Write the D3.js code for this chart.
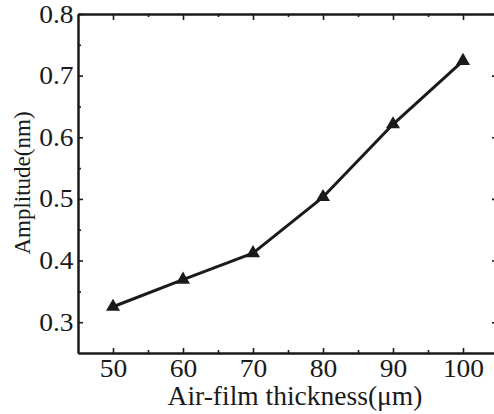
<!DOCTYPE html>
<html>
<head>
<meta charset="utf-8">
<script src="https://cdn.jsdelivr.net/npm/d3@7/dist/d3.min.js"></script>
<style>
  html, body { margin: 0; padding: 0; background: #fff; overflow: hidden; }
  svg text { font-family: "Liberation Serif", "Times New Roman", serif; fill: #1a1a1a; }
</style>
</head>
<body>
<div id="chart"></div>
<script>
// ── Data ──────────────────────────────────────────────────────────────
const thickness = [50, 60, 70, 80, 90, 100];
const amplitude = [0.325, 0.369, 0.412, 0.503, 0.621, 0.724];
const xTicks    = [50, 60, 70, 80, 90, 100];
const yTicks    = [0.3, 0.4, 0.5, 0.6, 0.7, 0.8];
const xMinor    = [55, 65, 75, 85, 95];
const yMinor    = [0.35, 0.45, 0.55, 0.65, 0.75];

const W = 494, H = 414;
const margin = { top: 14, right: -4, bottom: 61, left: 78 };
const w = W - margin.left - margin.right;
const h = H - margin.top - margin.bottom;
const ink = '#1a1a1a';
const serif = '"Liberation Serif", "Times New Roman", serif';

const svg = d3.select('#chart').append('svg')
  .attr('width', W).attr('height', H);

const g = svg.append('g')
  .attr('transform', `translate(${margin.left},${margin.top})`);

// ── Scales ────────────────────────────────────────────────────────────
const x = d3.scaleLinear().domain([45, 105]).range([0, w]);
const y = d3.scaleLinear().domain([0.25, 0.8]).range([h, 0]);

// ── Axes (ticks point inward on all four sides) ──────────────────────
function styleAxis(sel) {
  sel.attr('font-family', null);
  sel.select('.domain').attr('stroke', ink).attr('stroke-width', 2);
  sel.selectAll('line').attr('stroke', ink).attr('stroke-width', 1.6);
  // the source figure's numerals are a touch wider than Liberation Serif
  sel.selectAll('text')
    .style('font-family', serif)
    .style('font-size', '25px')
    .attr('transform', 'scale(1.1,1)')
    .attr('fill', ink);
}

function minorAxis(axisFn, scale, ticks, len) {
  return axisFn(scale).tickValues(ticks).tickSize(len).tickFormat('').tickSizeOuter(0);
}

// bottom
g.append('g').attr('transform', `translate(0,${h})`)
  .call(d3.axisBottom(x).tickValues(xTicks).tickSize(-5).tickSizeOuter(0).tickPadding(6).tickFormat(d3.format('d')))
  .call(styleAxis);
g.append('g').attr('transform', `translate(0,${h})`)
  .call(minorAxis(d3.axisBottom, x, xMinor, -3)).call(styleAxis);

// top
g.append('g')
  .call(d3.axisTop(x).tickValues(xTicks).tickSize(-6).tickSizeOuter(0).tickFormat(''))
  .call(styleAxis);
g.append('g')
  .call(minorAxis(d3.axisTop, x, xMinor, -3)).call(styleAxis);

// left
g.append('g')
  .call(d3.axisLeft(y).tickValues(yTicks).tickSize(-5).tickSizeOuter(0).tickPadding(4).tickFormat(d3.format('.1f')))
  .call(styleAxis);
g.append('g')
  .call(minorAxis(d3.axisLeft, y, yMinor, -3)).call(styleAxis);

// right
g.append('g').attr('transform', `translate(${w},0)`)
  .call(d3.axisRight(y).tickValues(yTicks).tickSize(-6).tickSizeOuter(0).tickFormat(''))
  .call(styleAxis);
g.append('g').attr('transform', `translate(${w},0)`)
  .call(minorAxis(d3.axisRight, y, yMinor, -3)).call(styleAxis);

// ── Line + triangle markers ───────────────────────────────────────────
const pts = thickness.map((t, i) => ({ t, a: amplitude[i] }));

g.append('path').datum(pts)
  .attr('d', d3.line().x(d => x(d.t)).y(d => y(d.a)))
  .attr('fill', 'none')
  .attr('stroke', ink)
  .attr('stroke-width', 3)
  .attr('stroke-linejoin', 'round');

g.selectAll('.marker').data(pts).join('path')
  .attr('class', 'marker')
  .attr('d', d3.symbol(d3.symbolTriangle).size(85))
  .attr('transform', d => `translate(${x(d.t)},${y(d.a)})`)
  .attr('fill', ink);

// ── Axis titles ───────────────────────────────────────────────────────
svg.append('text')
  .attr('x', 295).attr('y', 405)
  .attr('text-anchor', 'middle')
  .style('font-size', '27.5px')
  .text('Air-film thickness(μm)');

svg.append('text')
  .attr('transform', 'translate(30,183) rotate(-90)')
  .attr('text-anchor', 'middle')
  .style('font-size', '23px')
  .text('Amplitude(nm)');
</script>
</body>
</html>
